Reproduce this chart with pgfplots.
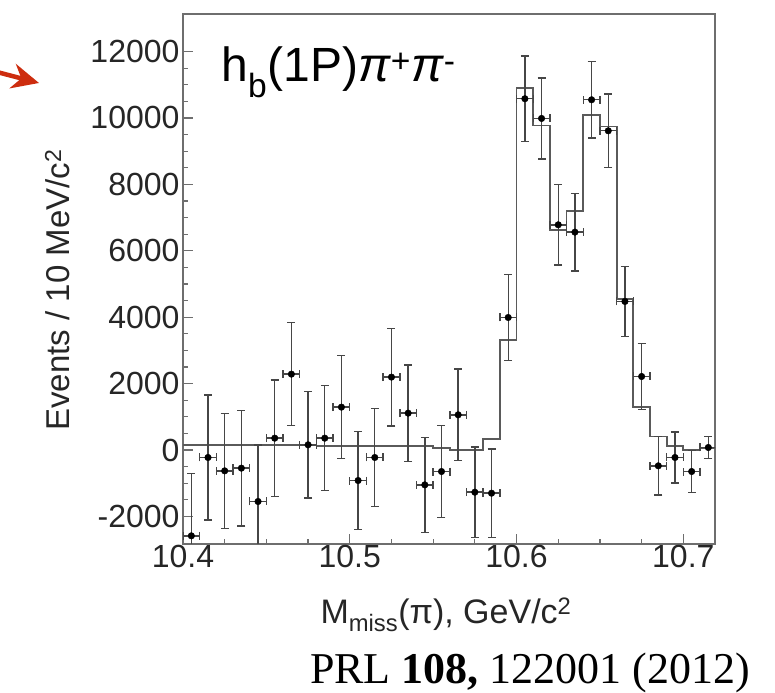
\documentclass[border=0pt]{standalone}
\usepackage{pgfplots}
\pgfplotsset{compat=1.18}
\usepackage{pgfplotstable}
\usetikzlibrary{arrows.meta}
\usepackage{fontspec}
\setmainfont{Liberation Sans}
\newfontfamily\seriffont{Liberation Serif}
\definecolor{framegray}{RGB}{110,110,110}
\definecolor{histgray}{RGB}{90,90,90}
\definecolor{errgray}{RGB}{70,70,70}
\definecolor{arrowred}{RGB}{205,45,15}

\pgfplotstableread{
x ey y
10.405 1870 -2584
10.415 1880 -225
10.425 1730 -627
10.435 1740 -546
10.445 1700 -1550
10.455 1750 357
10.465 1550 2285
10.475 1600 157
10.485 1580 357
10.495 1550 1291
10.505 1480 -918
10.515 1470 -225
10.525 1470 2195
10.535 1450 1110
10.545 1430 -1049
10.555 1380 -647
10.565 1380 1060
10.575 1360 -1270
10.585 1330 -1300
10.595 1290 3991
10.605 1290 10578
10.615 1220 9985
10.625 1215 6782
10.635 1165 6561
10.645 1150 10547
10.655 1110 9613
10.665 1050 4474
10.675 1000 2214
10.685 880 -476
10.695 770 -225
10.705 640 -647
10.715 330 76
}\datatable

\pgfplotstableread{
x y
10.40 160
10.41 160
10.42 160
10.43 160
10.44 160
10.45 160
10.46 160
10.47 160
10.48 110
10.49 110
10.50 110
10.51 110
10.52 110
10.53 110
10.54 110
10.55 60
10.56 10
10.57 10
10.58 330
10.59 3320
10.60 10900
10.61 9770
10.62 6620
10.63 7190
10.64 10100
10.65 9740
10.66 4540
10.67 1290
10.68 410
10.69 110
10.70 10
10.71 60
10.72 60
}\fittable

\begin{document}
\begin{tikzpicture}
\path[use as bounding box] (-183bp,-149bp) rectangle (592bp,544bp);
\begin{axis}[
  scale only axis,
  width=532bp, height=530bp,
  at={(0,0)}, anchor=south west,
  xmin=10.4, xmax=10.719,
  ymin=-2830, ymax=13130,
  xtick={10.4,10.5,10.6,10.7},
  ytick={-2000,0,2000,4000,6000,8000,10000,12000},
  minor x tick num=3,
  minor y tick num=3,
  xtick pos=bottom, ytick pos=left,
  tick align=inside,
  major tick length=10bp,
  minor tick length=5bp,
  every tick/.style={color=framegray, line width=1.2bp},
  axis line style={color=framegray, line width=2bp},
  scaled y ticks=false,
  /pgf/number format/assume math mode=true,
  yticklabel style={/pgf/number format/1000 sep={}},
  xticklabel style={/pgf/number format/fixed, /pgf/number format/precision=1, yshift=2bp},
  tick label style={font=\fontsize{32bp}{36bp}\selectfont, color=black!85},
]
\addplot[const plot, color=histgray, line width=1.8bp] table[x=x, y=y] {\fittable};
\addplot[only marks, mark=*, mark size=3.3bp, color=black,
  error bars/.cd, x dir=both, x fixed=0.005, y dir=both, y explicit,
  error bar style={line width=1.4bp, color=errgray},
  error mark=-,
  error mark options={rotate=90, line width=1.4bp, mark size=4bp, color=errgray}]
  table[x=x, y=y, y error=ey] {\datatable};
\end{axis}
% labels
\node[anchor=base west, font=\fontsize{48bp}{56bp}\selectfont] at (35bp,462bp)
  {h\textsubscript{b}(1P)\textit{π}\textsuperscript{+}\textit{π}\textsuperscript{-}};
\node[anchor=base, font=\fontsize{34bp}{40bp}\selectfont, color=black!85] at (263bp,-79bp)
  {M\textsubscript{miss}(π), GeV/c\textsuperscript{2}};
\node[anchor=base, rotate=90, font=\fontsize{33bp}{40bp}\selectfont, color=black!85] at (-113bp,254bp)
  {Events / 10 MeV/c\textsuperscript{2}};
\node[anchor=base, font=\seriffont\fontsize{44bp}{50bp}\selectfont] at (347bp,-139bp)
  {PRL \textbf{108,} 122001 (2012)};
\draw[arrowred, line width=4.5bp, -{Stealth[length=27bp, width=25bp]}] (-190bp,473bp) -- (-144bp,461bp);
\end{tikzpicture}
\end{document}
